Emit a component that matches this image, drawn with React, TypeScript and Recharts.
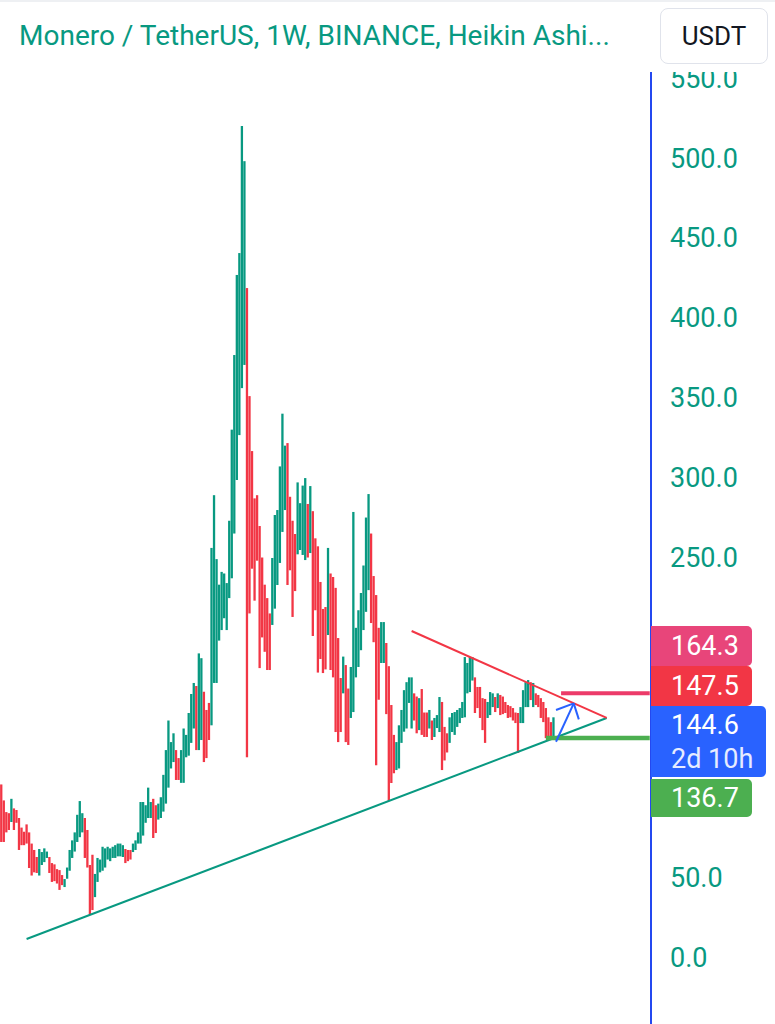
import React from 'react';
import { ComposedChart, Bar, XAxis, YAxis, ReferenceLine } from 'recharts';

const GREEN = '#089981';
const RED = '#f23645';
const AXIS_BLUE = '#2448f0';

// Weekly Heikin Ashi candles (low / high / direction)
const weekLow = [
  72, 72, 78, 79.5, 84.5, 79.5, 84, 67, 70, 70, 71, 55.7, 51, 53, 52.6, 51, 57.6, 59.4, 62, 52.6,
  47, 47.5, 46, 42, 45, 43.8, 49, 54, 62, 66, 72, 75, 78, 62, 56, 26.3, 29.4, 37.5, 47, 53,
  54, 56, 61, 60, 62, 62, 63, 63, 62.6, 58.8, 60, 61, 65.7, 67, 71, 71, 76, 84, 87, 87,
  74.5, 77.6, 86, 87, 91, 96, 106, 118, 122, 110.8, 110.8, 109, 109, 125, 126, 134, 143, 129.5, 129.5, 135.8,
  122, 124.5, 135.8, 145, 171.5, 171.5, 198, 204.6, 212, 204.6, 224.6, 237, 265, 298.5, 326.6, 356, 370.5, 125, 215, 243,
  223, 248, 180.8, 200, 191, 179.6, 179.6, 207.8, 218, 232.8, 246.6, 266, 279.7, 232.8, 242, 212.8, 229, 252, 254.7, 251.6,
  248.4, 250, 252.8, 200.9, 217, 178, 186.5, 177.7, 180, 201.5, 179.6, 175, 140.8, 134.5, 140.8, 165, 134.5, 132.7, 149.6, 153.3,
  175, 181.5, 192, 204.6, 216, 229.6, 209, 197, 120, 161, 184, 184, 152, 97.6, 108.9, 115, 117, 118, 134, 141,
  143, 159, 143, 148, 140, 142, 139, 137.7, 137.7, 143, 135.8, 137.7, 143.3, 140.8, 117, 123, 128, 134, 140.8, 139,
  144, 146.4, 149.6, 150, 165, 165.8, 173, 152.7, 155.8, 149.6, 142, 134, 149.6, 151.4, 156.4, 153.3, 155.8, 151.4, 152, 152.7,
  149.6, 150, 148, 146.4, 127.7, 146.4, 146.4, 156.4, 156.4, 160.8, 156.4, 157.7, 156.4, 149.6, 147, 137, 137.7, 137.7, 137.7,
];
const weekHigh = [
  108, 98, 90.7, 90, 99, 93, 92, 87, 81, 78.4, 83, 78, 71, 67, 62.6, 67.6, 65.7, 68, 66, 62.6,
  58.8, 58, 55, 54.4, 51.3, 48.8, 56, 67, 73, 78, 89, 97.6, 90, 87, 79.5, 57.6, 64, 52, 62, 61,
  69, 68, 69, 68, 69, 70, 71, 71, 70, 67.6, 67, 67, 71, 73, 78, 97, 97, 95, 106, 97,
  99, 95, 96, 100, 114, 129.5, 148, 134.5, 140, 129.5, 124.5, 129.5, 143, 139, 152.7, 164.6, 171.5, 169.6, 190, 187,
  166, 154.6, 159, 256, 289, 249, 233, 241, 240, 234, 273, 330, 376.7, 426.8, 440.5, 520, 498, 418.6, 351, 316.6,
  287, 289, 269.7, 250, 233, 224.6, 215, 249.7, 276.6, 279.7, 307, 340, 320, 321.6, 288, 273, 264.7, 297, 284, 295,
  299.7, 283.5, 294.7, 279, 262, 257, 234.7, 217.8, 219, 256, 240, 237.8, 231, 199.6, 174.6, 188, 182.7, 168, 181.5, 278.5,
  206, 217, 227.8, 245, 275, 289.7, 265, 238.4, 226.5, 206, 209.6, 209.6, 196.5, 182, 157.7, 139, 134.5, 145, 154.6, 167,
  172, 175, 175, 165, 163, 162, 167.7, 153, 153, 154.6, 148, 149.6, 151.4, 162.7, 159.6, 144, 140, 150, 152.7, 153.3,
  154.6, 155.8, 159.6, 187.7, 184, 187.7, 187.7, 175, 169, 169, 162, 161.5, 159.6, 165.8, 165, 162.7, 165, 164, 163, 159.6,
  157.7, 157, 155.8, 153, 152.7, 156.4, 167, 172, 173.3, 172, 171.5, 165, 164, 162, 159.6, 155.8, 150, 147, 150,
];
// 1 = bullish (green), 0 = bearish (red)
const weekBullish = [
  0, 0, 0, 0, 1, 0, 0, 0, 0, 0, 0, 0, 0, 0, 0, 1, 1, 1, 1, 0,
  0, 0, 0, 0, 0, 1, 1, 1, 1, 1, 1, 1, 1, 0, 0, 0, 0, 1, 1, 1,
  1, 1, 1, 1, 1, 1, 1, 1, 1, 0, 0, 0, 1, 1, 1, 1, 1, 1, 1, 1,
  0, 0, 1, 1, 1, 1, 1, 1, 1, 0, 0, 1, 1, 1, 1, 1, 1, 0, 1, 1,
  0, 0, 0, 1, 1, 1, 1, 1, 1, 1, 1, 1, 1, 1, 1, 1, 1, 0, 0, 0,
  0, 0, 0, 0, 0, 0, 0, 1, 1, 1, 1, 1, 1, 0, 0, 0, 0, 1, 1, 1,
  1, 0, 1, 0, 0, 0, 0, 0, 0, 1, 0, 0, 0, 0, 0, 1, 0, 0, 1, 1,
  1, 1, 1, 1, 1, 1, 0, 0, 0, 0, 1, 1, 0, 0, 0, 0, 1, 1, 1, 1,
  1, 1, 1, 0, 0, 1, 0, 0, 0, 1, 0, 1, 1, 1, 0, 0, 0, 1, 1, 1,
  1, 1, 1, 1, 1, 1, 1, 0, 0, 0, 0, 0, 1, 1, 1, 0, 1, 0, 0, 0,
  0, 0, 0, 0, 0, 1, 1, 1, 1, 0, 1, 0, 0, 0, 0, 0, 0, 0, 1,
];
const FUTURE_WEEKS = 38;
// 100 / 150 / 200 are hidden behind the price tags in the reference
const priceTicks = [0, 50, 250, 300, 350, 400, 450, 500, 550];

// Drawings (week index, price)
const supportLine = [{ week: 10, price: 11.3 }, { week: 239, price: 149.6 }];
const resistanceLine = [{ week: 162, price: 204 }, { week: 239, price: 149.6 }];
const upperLevel = [{ week: 221, price: 165 }, { week: 256, price: 165 }];
const lowerLevel = [{ week: 215, price: 137 }, { week: 256, price: 137 }];
const arrowShaft = [{ week: 219, price: 134.7 }, { week: 226, price: 158.7 }];
const arrowWingLeft = [{ week: 219, price: 154.6 }, { week: 226, price: 158.7 }];
const arrowWingRight = [{ week: 226, price: 158.7 }, { week: 228, price: 148.7 }];

const data = [
  ...weekLow.map((lo, i) => ({ week: i, range: [lo, weekHigh[i]], up: weekBullish[i] === 1 })),
  ...Array.from({ length: FUTURE_WEEKS }, (_, k) => ({ week: weekLow.length + k, range: null, up: false })),
];

const seg = (pts: { week: number; price: number }[]) => pts.map((p) => ({ x: p.week, y: p.price }));

const Candle = (props: any) => {
  const { x, y, width, height, payload } = props;
  if (x == null || y == null || !payload || !payload.range) return null;
  const top = Math.min(y, y + height);
  const h = Math.max(1, Math.abs(height));
  const w = 2.3;
  return <rect x={x + width / 2 - w / 2} y={top} width={w} height={h} fill={payload.up ? GREEN : RED} />;
};

const tagBase: React.CSSProperties = {
  position: 'absolute',
  left: 651,
  color: '#fff',
  fontSize: 27,
  paddingLeft: 20,
  boxSizing: 'border-box',
  borderRadius: '0 5px 5px 0',
  display: 'flex',
  alignItems: 'center',
};

export default function App() {
  return (
    <div
      style={{
        position: 'absolute',
        left: 0,
        top: 0,
        width: 775,
        height: 1024,
        background: '#fff',
        overflow: 'hidden',
        fontFamily: 'Roboto, "Noto Sans", sans-serif',
      }}
    >
      <ComposedChart width={775} height={1024} data={data} margin={{ top: 72, right: 0, bottom: 0, left: 0 }}>
        <XAxis dataKey="week" hide />
        <YAxis
          orientation="right"
          width={124}
          domain={[-41.9, 553.8]}
          allowDataOverflow
          ticks={priceTicks}
          interval={0}
          tickFormatter={(v: number) => v.toFixed(1)}
          tick={{ fill: GREEN, fontSize: 27, fontFamily: 'Roboto' }}
          tickLine={false}
          tickSize={0}
          tickMargin={19}
          axisLine={{ stroke: AXIS_BLUE, strokeWidth: 2 }}
        />
        <Bar dataKey="range" isAnimationActive={false} shape={<Candle />} />
        <ReferenceLine segment={seg(supportLine)} stroke={GREEN} strokeWidth={2} ifOverflow="extendDomain" />
        <ReferenceLine segment={seg(resistanceLine)} stroke={RED} strokeWidth={2} ifOverflow="extendDomain" />
        <ReferenceLine segment={seg(upperLevel)} stroke="#ec3b6a" strokeWidth={4} ifOverflow="extendDomain" />
        <ReferenceLine segment={seg(lowerLevel)} stroke="#4caf50" strokeWidth={4.5} ifOverflow="extendDomain" />
        <ReferenceLine segment={seg(arrowShaft)} stroke="#2962ff" strokeWidth={2} ifOverflow="extendDomain" />
        <ReferenceLine segment={seg(arrowWingLeft)} stroke="#2962ff" strokeWidth={2} ifOverflow="extendDomain" />
        <ReferenceLine segment={seg(arrowWingRight)} stroke="#2962ff" strokeWidth={2} ifOverflow="extendDomain" />
      </ComposedChart>

      {/* header */}
      <div style={{ position: 'absolute', left: 0, top: 0, width: 775, height: 72, background: '#fff' }}>
        <div style={{ position: 'absolute', left: 0, top: 0, width: 775, height: 2, background: '#eef0f3' }} />
        <div
          style={{
            position: 'absolute',
            left: 19,
            top: 16,
            fontSize: 28,
            lineHeight: '40px',
            color: GREEN,
            whiteSpace: 'nowrap',
          }}
        >
          Monero / TetherUS, 1W, BINANCE, Heikin Ashi...
        </div>
        <div
          style={{
            position: 'absolute',
            left: 660,
            top: 8,
            width: 108,
            height: 56,
            border: '1px solid #e0e3eb',
            borderRadius: 8,
            boxSizing: 'border-box',
            display: 'flex',
            alignItems: 'center',
            justifyContent: 'center',
            fontSize: 26,
            color: '#131722',
          }}
        >
          USDT
        </div>
      </div>

      {/* price tags */}
      <div style={{ ...tagBase, top: 626, width: 101, height: 40, background: '#e8457a' }}>164.3</div>
      <div style={{ ...tagBase, top: 666, width: 101, height: 40, background: '#f23645' }}>147.5</div>
      <div
        style={{
          ...tagBase,
          top: 706,
          width: 115,
          height: 71,
          background: '#2962ff',
          flexDirection: 'column',
          alignItems: 'flex-start',
          justifyContent: 'center',
          lineHeight: '34px',
        }}
      >
        <span>144.6</span>
        <span style={{ color: '#e6ecff' }}>2d 10h</span>
      </div>
      <div style={{ ...tagBase, top: 779, width: 101, height: 38, background: '#4caf50' }}>136.7</div>
    </div>
  );
}
